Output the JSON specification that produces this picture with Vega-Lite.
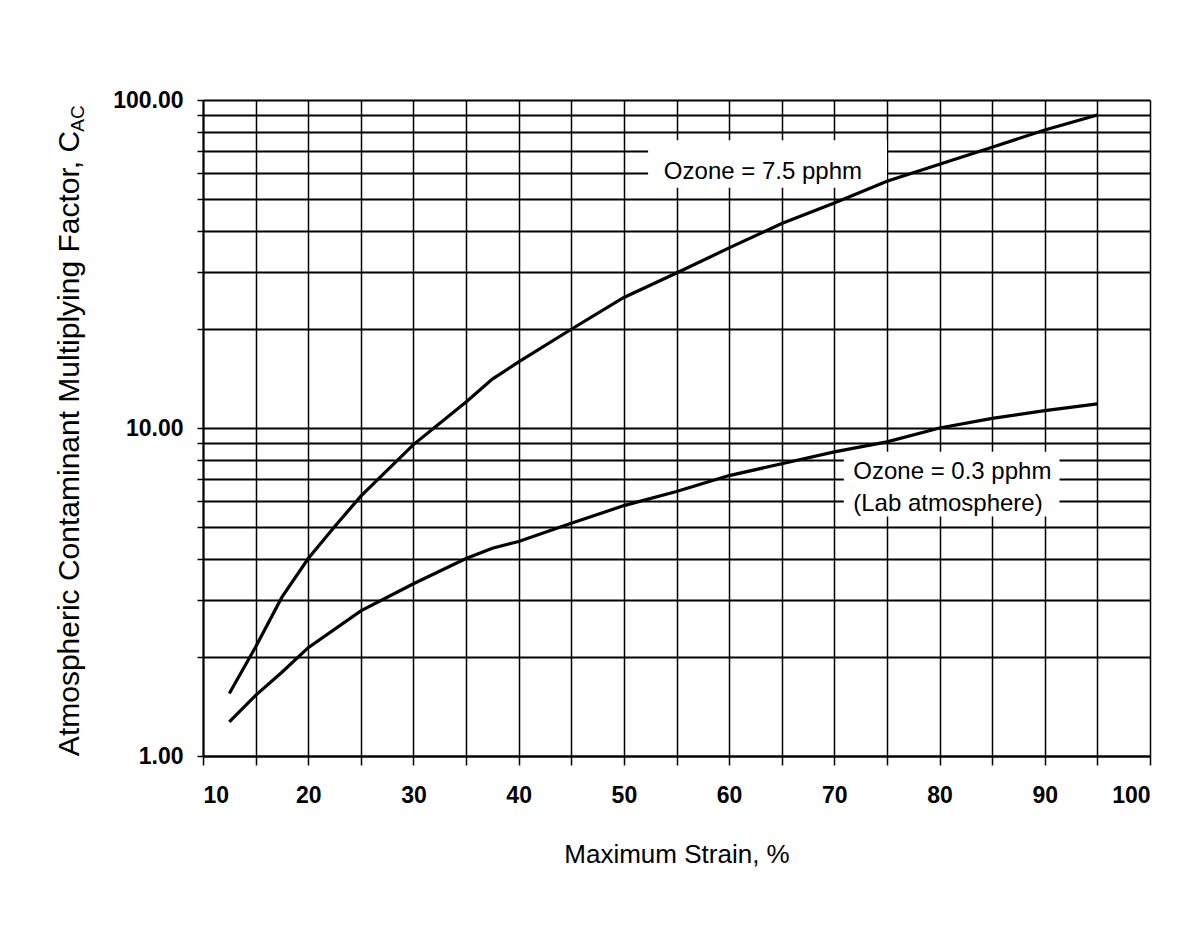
{
  "$schema": "https://vega.github.io/schema/vega-lite/v6.json",
  "width": 947,
  "height": 656,
  "autosize": {"type": "none"},
  "padding": {"left": 203, "top": 100, "right": 33, "bottom": 190},
  "background": "white",
  "config": {"view": {"stroke": null}, "font": "Liberation Sans"},
  "datasets": {
    "curves": [
      {"strain": 12.5, "factor": 1.55, "series": "7.5"},
      {"strain": 15, "factor": 2.15, "series": "7.5"},
      {"strain": 17.5, "factor": 3.05, "series": "7.5"},
      {"strain": 20, "factor": 4.0, "series": "7.5"},
      {"strain": 22.5, "factor": 5.0, "series": "7.5"},
      {"strain": 25, "factor": 6.2, "series": "7.5"},
      {"strain": 30, "factor": 8.9, "series": "7.5"},
      {"strain": 35, "factor": 12.0, "series": "7.5"},
      {"strain": 37.5, "factor": 14.1, "series": "7.5"},
      {"strain": 40, "factor": 15.9, "series": "7.5"},
      {"strain": 45, "factor": 20, "series": "7.5"},
      {"strain": 50, "factor": 25, "series": "7.5"},
      {"strain": 55, "factor": 29.7, "series": "7.5"},
      {"strain": 60, "factor": 35.4, "series": "7.5"},
      {"strain": 65, "factor": 42, "series": "7.5"},
      {"strain": 70, "factor": 48.5, "series": "7.5"},
      {"strain": 75, "factor": 56.5, "series": "7.5"},
      {"strain": 80, "factor": 63.7, "series": "7.5"},
      {"strain": 85, "factor": 71.8, "series": "7.5"},
      {"strain": 90, "factor": 81, "series": "7.5"},
      {"strain": 95, "factor": 90, "series": "7.5"},
      {"strain": 12.5, "factor": 1.27, "series": "0.3"},
      {"strain": 15, "factor": 1.53, "series": "0.3"},
      {"strain": 17.5, "factor": 1.8, "series": "0.3"},
      {"strain": 20, "factor": 2.14, "series": "0.3"},
      {"strain": 25, "factor": 2.77, "series": "0.3"},
      {"strain": 30, "factor": 3.35, "series": "0.3"},
      {"strain": 35, "factor": 4.0, "series": "0.3"},
      {"strain": 37.5, "factor": 4.3, "series": "0.3"},
      {"strain": 40, "factor": 4.51, "series": "0.3"},
      {"strain": 45, "factor": 5.12, "series": "0.3"},
      {"strain": 50, "factor": 5.8, "series": "0.3"},
      {"strain": 55, "factor": 6.4, "series": "0.3"},
      {"strain": 60, "factor": 7.16, "series": "0.3"},
      {"strain": 65, "factor": 7.78, "series": "0.3"},
      {"strain": 70, "factor": 8.46, "series": "0.3"},
      {"strain": 75, "factor": 9.07, "series": "0.3"},
      {"strain": 80, "factor": 10, "series": "0.3"},
      {"strain": 85, "factor": 10.7, "series": "0.3"},
      {"strain": 90, "factor": 11.3, "series": "0.3"},
      {"strain": 95, "factor": 11.85, "series": "0.3"}
    ],
    "boxes": [
      {"x1": 52.3, "x2": 75.0, "y1": 54, "y2": 75.4},
      {"x1": 70.9, "x2": 91.4, "y1": 5.37, "y2": 8.46}
    ],
    "labels": [
      {"x": 53.8, "y": 60.5, "text": "Ozone = 7.5 pphm"},
      {"x": 71.8, "y": 7.36, "text": "Ozone = 0.3 pphm"},
      {"x": 71.8, "y": 5.88, "text": "(Lab atmosphere)"}
    ]
  },
  "layer": [
    {
      "data": {"name": "boxes"},
      "mark": {"type": "rect", "fill": "white", "stroke": null},
      "encoding": {
        "x": {"field": "x1", "type": "quantitative", "scale": {"domain": [10, 100], "nice": false, "zero": false}, "axis": null},
        "x2": {"field": "x2"},
        "y": {"field": "y1", "type": "quantitative", "scale": {"type": "log", "domain": [1, 100], "nice": false}, "axis": null},
        "y2": {"field": "y2"}
      }
    },
    {
      "data": {"name": "curves"},
      "mark": {"type": "line", "color": "black", "strokeWidth": 3.2},
      "encoding": {
        "x": {
          "field": "strain", "type": "quantitative",
          "scale": {"domain": [10, 100], "nice": false, "zero": false},
          "axis": {
            "values": [10, 15, 20, 25, 30, 35, 40, 45, 50, 55, 60, 65, 70, 75, 80, 85, 90, 95, 100],
            "labelExpr": "datum.value % 10 == 0 ? datum.value : ''",
            "labelOverlap": false,
            "grid": true, "gridColor": "black", "gridWidth": 1.5, "gridOpacity": 1,
            "domainColor": "black", "domainWidth": 2,
            "tickColor": "black", "tickWidth": 1.5, "tickSize": 9,
            "labelFont": "Liberation Sans", "labelFontSize": 23, "labelFontWeight": "bold", "labelColor": "black",
            "labelPadding": 19,
            "title": "Maximum Strain, %",
            "titleFont": "Liberation Sans", "titleFontSize": 26, "titleFontWeight": "normal", "titleColor": "black",
            "titlePadding": 34
          }
        },
        "y": {
          "field": "factor", "type": "quantitative",
          "scale": {"type": "log", "domain": [1, 100], "nice": false},
          "axis": {
            "values": [1, 2, 3, 4, 5, 6, 7, 8, 9, 10, 20, 30, 40, 50, 60, 70, 80, 90, 100],
            "labelExpr": "(datum.value == 1 || datum.value == 10 || datum.value == 100) ? format(datum.value, '.2f') : ''",
            "labelOverlap": false,
            "grid": true, "gridColor": "black", "gridWidth": 2, "gridOpacity": 1,
            "domainColor": "black", "domainWidth": 2,
            "tickColor": "black", "tickWidth": 1.5, "tickSize": 6,
            "labelFont": "Liberation Sans", "labelFontSize": 23, "labelFontWeight": "bold", "labelColor": "black",
            "labelPadding": 14,
            "title": "Atmospheric Contaminant Multiplying Factor, C",
            "titleFont": "Liberation Sans", "titleFontSize": 30, "titleFontWeight": "normal", "titleColor": "black",
            "titleAngle": 270, "titleAlign": "center", "titleBaseline": "alphabetic",
            "titleX": -125, "titleY": 343
          }
        },
        "detail": {"field": "series"}
      }
    },
    {
      "data": {"name": "labels"},
      "mark": {"type": "text", "align": "left", "baseline": "middle", "font": "Liberation Sans", "fontSize": 24, "color": "black"},
      "encoding": {
        "x": {"field": "x", "type": "quantitative", "scale": {"domain": [10, 100], "nice": false, "zero": false}, "axis": null},
        "y": {
          "field": "y", "type": "quantitative",
          "scale": {"type": "log", "domain": [1, 100], "nice": false},
          "axis": {
            "orient": "left", "labels": false, "ticks": false, "domain": false, "grid": false,
            "title": "AC",
            "titleFont": "Liberation Sans", "titleFontSize": 19, "titleFontWeight": "normal", "titleColor": "black",
            "titleAngle": 270, "titleAlign": "center", "titleBaseline": "alphabetic",
            "titleX": -120, "titleY": 18
          }
        },
        "text": {"field": "text"}
      }
    }
  ],
  "resolve": {"axis": {"x": "independent", "y": "independent"}}
}
